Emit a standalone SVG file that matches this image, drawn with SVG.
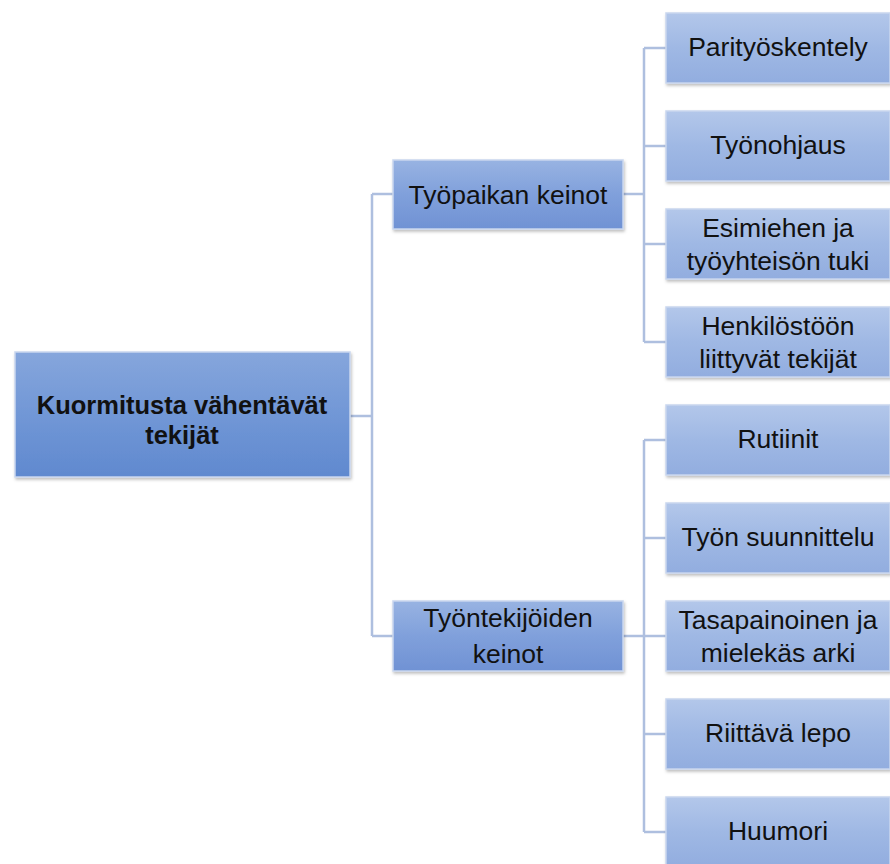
<svg xmlns="http://www.w3.org/2000/svg" width="890" height="864" viewBox="0 0 890 864">
<defs>
<linearGradient id="gRoot" x1="0" y1="0" x2="0" y2="1">
<stop offset="0" stop-color="#86a6dc"/>
<stop offset="0.5" stop-color="#7197d6"/>
<stop offset="1" stop-color="#6089cf"/>
</linearGradient>
<linearGradient id="gMid" x1="0" y1="0" x2="0" y2="1">
<stop offset="0" stop-color="#98b3e2"/>
<stop offset="0.5" stop-color="#80a0db"/>
<stop offset="1" stop-color="#7092d4"/>
</linearGradient>
<linearGradient id="gLeaf" x1="0" y1="0" x2="0" y2="1">
<stop offset="0" stop-color="#b3c7ea"/>
<stop offset="0.5" stop-color="#9fb8e4"/>
<stop offset="1" stop-color="#92addf"/>
</linearGradient>
<filter id="sh" x="-10%" y="-10%" width="120%" height="130%">
<feDropShadow dx="1" dy="2" stdDeviation="1.5" flood-color="#000" flood-opacity="0.25"/>
</filter>
</defs>
<style>
.box{stroke:#c9d6ee;stroke-width:1.5;filter:url(#sh)}
.t{font-family:"Liberation Sans",Arial,sans-serif;font-size:26.5px;fill:#111;text-anchor:middle}
.b{font-weight:bold;font-size:25.5px}
.c{fill:none;stroke:#aebfdf;stroke-width:2.5}
</style>
<g id="connectors">
<path class="c" d="M350 416 H372 M372 194 V636 M372 194 H393 M372 636 H393"/>
<path class="c" d="M623 194 H644 M644 48 V342 M644 48 H666 M644 146 H666 M644 244 H666 M644 342 H666"/>
<path class="c" d="M623 636 H644 M644 440 V832 M644 440 H666 M644 538 H666 M644 636 H666 M644 734 H666 M644 832 H666"/>
</g>
<g id="root">
<rect class="box" x="15" y="352" width="335" height="125" fill="url(#gRoot)"/>
<text class="t b" x="182" y="414">Kuormitusta vähentävät</text>
<text class="t b" x="182" y="444">tekijät</text>
</g>
<g id="mid1">
<rect class="box" x="393" y="160" width="230" height="69" fill="url(#gMid)"/>
<text class="t" x="508" y="204">Työpaikan keinot</text>
</g>
<g id="mid2">
<rect class="box" x="393" y="601" width="230" height="70" fill="url(#gMid)"/>
<text class="t" x="508" y="627">Työntekijöiden</text>
<text class="t" x="508" y="663">keinot</text>
</g>
<g id="leaf1">
<rect class="box" x="666" y="13" width="224" height="70" fill="url(#gLeaf)"/>
<text class="t" x="778" y="56">Parityöskentely</text>
</g>
<g id="leaf2">
<rect class="box" x="666" y="111" width="224" height="70" fill="url(#gLeaf)"/>
<text class="t" x="778" y="154">Työnohjaus</text>
</g>
<g id="leaf3">
<rect class="box" x="666" y="209" width="224" height="70" fill="url(#gLeaf)"/>
<text class="t" x="778" y="237">Esimiehen ja</text>
<text class="t" x="778" y="270">työyhteisön tuki</text>
</g>
<g id="leaf4">
<rect class="box" x="666" y="307" width="224" height="70" fill="url(#gLeaf)"/>
<text class="t" x="778" y="335">Henkilöstöön</text>
<text class="t" x="778" y="368">liittyvät tekijät</text>
</g>
<g id="leaf5">
<rect class="box" x="666" y="405" width="224" height="70" fill="url(#gLeaf)"/>
<text class="t" x="778" y="448">Rutiinit</text>
</g>
<g id="leaf6">
<rect class="box" x="666" y="503" width="224" height="70" fill="url(#gLeaf)"/>
<text class="t" x="778" y="546">Työn suunnittelu</text>
</g>
<g id="leaf7">
<rect class="box" x="666" y="601" width="224" height="70" fill="url(#gLeaf)"/>
<text class="t" x="778" y="629">Tasapainoinen ja</text>
<text class="t" x="778" y="662">mielekäs arki</text>
</g>
<g id="leaf8">
<rect class="box" x="666" y="699" width="224" height="70" fill="url(#gLeaf)"/>
<text class="t" x="778" y="742">Riittävä lepo</text>
</g>
<g id="leaf9">
<rect class="box" x="666" y="797" width="224" height="70" fill="url(#gLeaf)"/>
<text class="t" x="778" y="840">Huumori</text>
</g>
</svg>
